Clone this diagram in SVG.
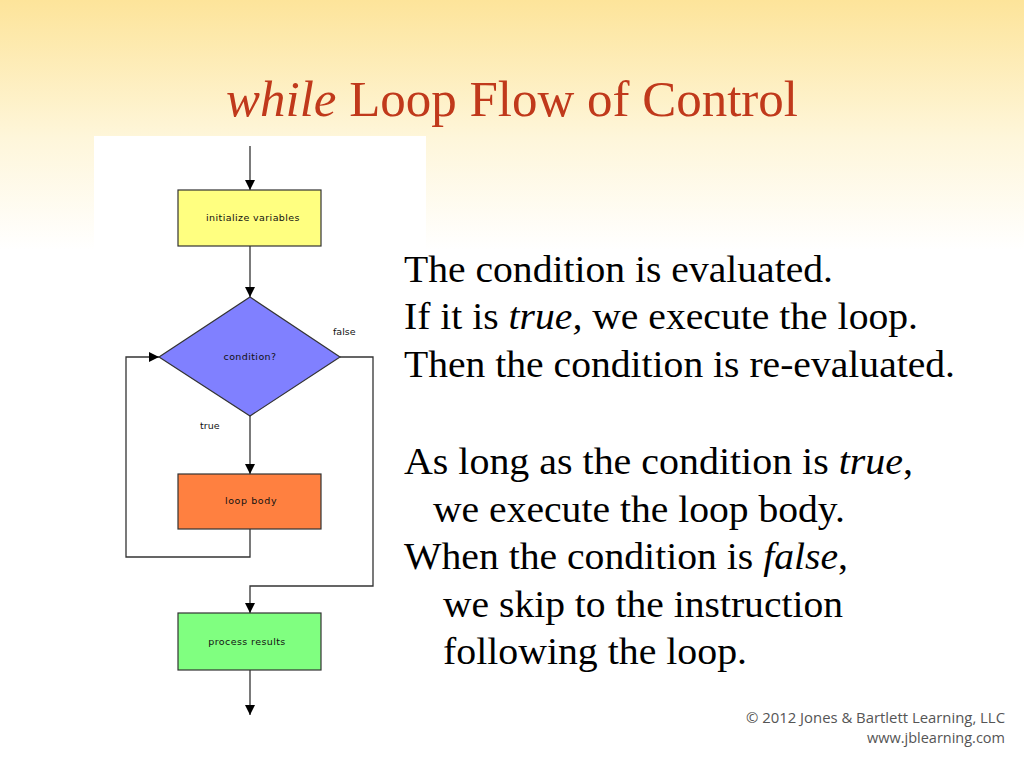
<svg xmlns="http://www.w3.org/2000/svg" width="1024" height="768" viewBox="0 0 1024 768">
<defs>
<linearGradient id="bg" x1="0" y1="0" x2="0" y2="1">
<stop offset="0" stop-color="#fde49a"/>
<stop offset="0.55" stop-color="#fef6da"/>
<stop offset="1" stop-color="#ffffff"/>
</linearGradient>
<marker id="ah" viewBox="0 0 10 10" refX="10" refY="5" markerWidth="10" markerHeight="10" markerUnits="userSpaceOnUse" orient="auto">
<path d="M0,0 L10,5 L0,10 z" fill="#000"/>
</marker>
<style>
.body{font-family:"Liberation Serif","Times New Roman",serif;font-size:37px;fill:#000}
.lbl{font-family:"DejaVu Sans","Liberation Sans",sans-serif;font-size:9.5px;fill:#111}
.box{stroke:#333;stroke-width:1.2}
.ln{fill:none;stroke:#333;stroke-width:1.3}
</style>
</defs>
<rect x="0" y="0" width="1024" height="768" fill="#fff"/>
<rect x="0" y="0" width="1024" height="250" fill="url(#bg)"/>
<rect x="94" y="136" width="332" height="600" fill="#fff"/>
<text x="226" y="116" textLength="572" lengthAdjust="spacingAndGlyphs" font-family="Liberation Serif,'Times New Roman',serif" font-size="50" fill="#c0391b"><tspan font-style="italic">while</tspan> Loop Flow of Control</text>
<g id="connectors">
<line class="ln" x1="250" y1="146" x2="250" y2="190" marker-end="url(#ah)"/>
<line class="ln" x1="250" y1="246" x2="250" y2="297" marker-end="url(#ah)"/>
<line class="ln" x1="250" y1="416" x2="250" y2="474" marker-end="url(#ah)"/>
<polyline class="ln" points="250,529 250,557 126,557 126,357 159,357" marker-end="url(#ah)"/>
<polyline class="ln" points="340,357 373,357 373,586 250,586 250,613" marker-end="url(#ah)"/>
<line class="ln" x1="250" y1="670" x2="250" y2="715" marker-end="url(#ah)"/>
<text class="lbl" x="333" y="335">false</text>
<text class="lbl" x="200" y="429">true</text>
</g>
<g id="init">
<rect class="box" x="178" y="190" width="143" height="56" fill="#ffff80"/>
<text class="lbl" x="253" y="221" text-anchor="middle" letter-spacing="0.4">initialize variables</text>
</g>
<g id="cond">
<polygon class="box" points="250,297 340,357 250,416 159,357" fill="#8080ff"/>
<text class="lbl" x="250" y="360" text-anchor="middle" letter-spacing="0.4" fill="#1a1a4d">condition?</text>
</g>
<g id="body">
<rect class="box" x="178" y="474" width="143" height="55" fill="#ff8040"/>
<text class="lbl" x="251" y="504" text-anchor="middle" letter-spacing="0.6">loop body</text>
</g>
<g id="process">
<rect class="box" x="178" y="613" width="143" height="57" fill="#80ff80"/>
<text class="lbl" x="247" y="645" text-anchor="middle" letter-spacing="0.4">process results</text>
</g>
<g id="explanation">
<text class="body" x="404" y="282" textLength="429" lengthAdjust="spacingAndGlyphs">The condition is evaluated.</text>
<text class="body" x="404" y="329" textLength="514" lengthAdjust="spacingAndGlyphs">If it is <tspan font-style="italic">true,</tspan> we execute the loop.</text>
<text class="body" x="404" y="377" textLength="551" lengthAdjust="spacingAndGlyphs">Then the condition is re-evaluated.</text>
<text class="body" x="404" y="474" textLength="509" lengthAdjust="spacingAndGlyphs">As long as the condition is <tspan font-style="italic">true</tspan>,</text>
<text class="body" x="433" y="522" textLength="412" lengthAdjust="spacingAndGlyphs">we execute the loop body.</text>
<text class="body" x="404" y="569" textLength="444" lengthAdjust="spacingAndGlyphs">When the condition is <tspan font-style="italic">false</tspan>,</text>
<text class="body" x="443" y="617" textLength="400" lengthAdjust="spacingAndGlyphs">we skip to the instruction</text>
<text class="body" x="443" y="664" textLength="304" lengthAdjust="spacingAndGlyphs">following the loop.</text>
</g>
<g id="copyright" font-family="'Open Sans','Liberation Sans',sans-serif" font-size="14.5" fill="#555" text-anchor="end">
<text x="1005" y="723" textLength="259" lengthAdjust="spacingAndGlyphs">© 2012 Jones &amp; Bartlett Learning, LLC</text>
<text x="1005" y="743" textLength="138" lengthAdjust="spacingAndGlyphs">www.jblearning.com</text>
</g>
</svg>
